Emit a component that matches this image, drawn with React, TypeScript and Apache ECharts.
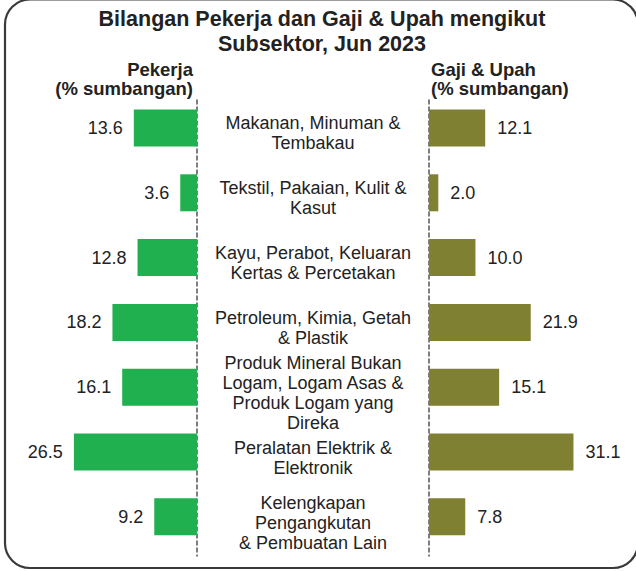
import React, { useEffect, useRef } from "react";
import * as echarts from "echarts";

const titleLines = ["Bilangan Pekerja dan Gaji & Upah mengikut", "Subsektor, Jun 2023"];
const leftHeader = ["Pekerja", "(% sumbangan)"];
const rightHeader = ["Gaji & Upah", "(% sumbangan)"];

const categories = [
  "Makanan, Minuman &\nTembakau",
  "Tekstil, Pakaian, Kulit &\nKasut",
  "Kayu, Perabot, Keluaran\nKertas & Percetakan",
  "Petroleum, Kimia, Getah\n& Plastik",
  "Produk Mineral Bukan\nLogam, Logam Asas &\nProduk Logam yang\nDireka",
  "Peralatan Elektrik &\nElektronik",
  "Kelengkapan\nPengangkutan\n& Pembuatan Lain",
];
const pekerja = [13.6, 3.6, 12.8, 18.2, 16.1, 26.5, 9.2];
const gajiUpah = [12.1, 2.0, 10.0, 21.9, 15.1, 31.1, 7.8];

const FONT = "'Liberation Sans', Arial, Helvetica, sans-serif";
const TEXT = "#222222";
const GREEN = "#21b04f";
const OLIVE = "#808033";

export default function App() {
  const ref = useRef<HTMLDivElement>(null);
  useEffect(() => {
    if (!ref.current) return;
    const chart = echarts.init(ref.current, null, { renderer: "svg" });
    const dashed = {
      show: true,
      onZero: false,
      lineStyle: { type: [4, 3], color: "#555555", width: 1.5 },
    };
    chart.setOption({
      animation: false,
      backgroundColor: "#ffffff",
      textStyle: { fontFamily: FONT },
      title: [
        {
          text: titleLines.join("\n"),
          left: 322,
          top: 6,
          padding: 0,
          textAlign: "center",
          textStyle: { fontSize: 21.5, fontWeight: "bold", lineHeight: 25, color: TEXT, fontFamily: FONT },
        },
        {
          text: leftHeader.join("\n"),
          left: 193,
          top: 60,
          padding: 0,
          textAlign: "right",
          textStyle: { fontSize: 18.5, fontWeight: "bold", lineHeight: 19, color: TEXT, fontFamily: FONT },
        },
        {
          text: rightHeader.join("\n"),
          left: 431,
          top: 60,
          padding: 0,
          textAlign: "left",
          textStyle: { fontSize: 18.5, fontWeight: "bold", lineHeight: 19, color: TEXT, fontFamily: FONT },
        },
      ],
      graphic: [
        {
          type: "rect",
          shape: { x: 5, y: -0.5, width: 633, height: 568.5, r: 25 },
          style: { fill: "none", stroke: "#3a3a3a", lineWidth: 2.2 },
          silent: true,
        },
      ],
      grid: [
        { left: 34.4, right: 439, top: 95.6, bottom: 21.8 },
        { left: 429, right: 44.4, top: 95.6, bottom: 21.8 },
        // label / divider bands (same rows, nudged down like the reference text and dashed lines)
        { left: 34.4, right: 439, top: 100, bottom: 15 },
        { left: 429, right: 44.4, top: 100, bottom: 15 },
      ],
      xAxis: [
        { gridIndex: 0, type: "value", min: 0, max: 35, inverse: true, show: false },
        { gridIndex: 1, type: "value", min: 0, max: 35, show: false },
        { gridIndex: 2, type: "value", min: 0, max: 35, inverse: true, show: false },
        { gridIndex: 3, type: "value", min: 0, max: 35, show: false },
      ],
      yAxis: [
        {
          gridIndex: 0,
          type: "category",
          data: categories,
          inverse: true,
          show: false,
        },
        {
          gridIndex: 1,
          type: "category",
          data: categories,
          inverse: true,
          show: false,
        },
        {
          gridIndex: 2,
          type: "category",
          data: categories,
          inverse: true,
          position: "right",
          axisLine: dashed,
          axisTick: { show: false },
          splitLine: { show: false },
          axisLabel: {
            interval: 0,
            showMinLabel: true,
            showMaxLabel: true,
            margin: 116,
            align: "center",
            fontSize: 18,
            lineHeight: 20,
            color: TEXT,
            fontFamily: FONT,
          },
        },
        {
          gridIndex: 3,
          type: "category",
          data: categories,
          inverse: true,
          position: "left",
          axisLine: dashed,
          axisTick: { show: false },
          axisLabel: { show: false },
          splitLine: { show: false },
        },
      ],
      series: [
        {
          name: "Pekerja",
          type: "bar",
          xAxisIndex: 0,
          yAxisIndex: 0,
          data: pekerja,
          barWidth: 37,
          itemStyle: { color: GREEN },
          label: {
            show: true,
            position: "left",
            distance: 11,
            fontSize: 18,
            color: TEXT,
            fontFamily: FONT,
            formatter: (p: any) => Number(p.value).toFixed(1),
          },
        },
        {
          name: "Gaji & Upah",
          type: "bar",
          xAxisIndex: 1,
          yAxisIndex: 1,
          data: gajiUpah,
          barWidth: 37,
          itemStyle: { color: OLIVE },
          label: {
            show: true,
            position: "right",
            distance: 12,
            fontSize: 18,
            color: TEXT,
            fontFamily: FONT,
            formatter: (p: any) => Number(p.value).toFixed(1),
          },
        },
      ],
    });
    return () => chart.dispose();
  }, []);
  return (
    <div
      ref={ref}
      style={{ position: "fixed", left: 0, top: 0, width: 636, height: 571, background: "#fff" }}
    />
  );
}
